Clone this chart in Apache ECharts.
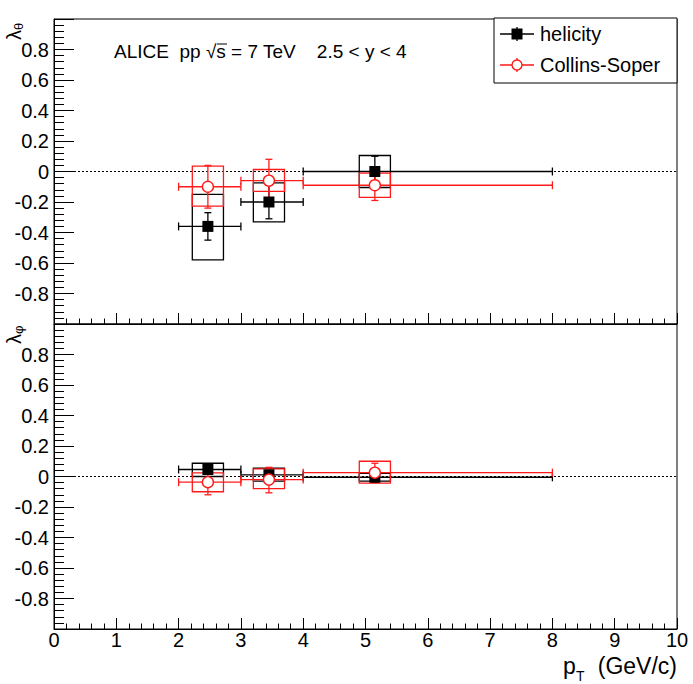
<!DOCTYPE html>
<html>
<head>
<meta charset="utf-8">
<script src="https://cdn.jsdelivr.net/npm/echarts@6/dist/echarts.min.js"></script>
<style>
html,body{margin:0;padding:0;background:#fff;}
#chart{width:693px;height:684px;}
</style>
</head>
<body>
<div id="chart"></div>
<script>
// ---- data ----
const xTicks = [0, 1, 2, 3, 4, 5, 6, 7, 8, 9, 10];
const yTickLabels = ['-0.8', '-0.6', '-0.4', '-0.2', '0', '0.2', '0.4', '0.6', '0.8'];
const seriesNames = ['helicity', 'Collins-Soper'];

const ptCenter = [2.47, 3.45, 5.15];
const ptLow = [2, 3, 4];
const ptHigh = [3, 4, 8];

// lambda_theta
const thetaHel = [-0.36, -0.20, 0.00];
const thetaHelStatLow = [-0.45, -0.31, -0.10];
const thetaHelStatHigh = [-0.27, -0.09, 0.10];
const thetaHelSysLow = [-0.58, -0.33, -0.105];
const thetaHelSysHigh = [-0.15, -0.075, 0.105];

const thetaCS = [-0.10, -0.06, -0.09];
const thetaCSStatLow = [-0.24, -0.20, -0.19];
const thetaCSStatHigh = [0.04, 0.08, 0.01];
const thetaCSSysLow = [-0.227, -0.13, -0.17];
const thetaCSSysHigh = [0.035, 0.013, -0.01];

// lambda_phi
const phiHel = [0.046, 0.011, -0.005];
const phiHelStatLow = [0.02, -0.02, -0.03];
const phiHelStatHigh = [0.07, 0.04, 0.02];
const phiHelSysLow = [0.0, -0.03, -0.03];
const phiHelSysHigh = [0.087, 0.054, 0.02];

const phiCS = [-0.037, -0.02, 0.025];
const phiCSStatLow = [-0.12, -0.107, -0.04];
const phiCSStatHigh = [0.04, 0.06, 0.087];
const phiCSSysLow = [-0.10, -0.08, -0.044];
const phiCSSysHigh = [0.024, 0.05, 0.10];

// ---- build ----
const FONT = 'Liberation Sans, Arial, Helvetica, sans-serif';
const BOX_HALF = 0.25;
const RED = '#ff1a1a';

function rows(val, sl, sh, bl, bh) {
  return val.map((v, i) => [ptCenter[i], v, ptLow[i], ptHigh[i], sl[i], sh[i], bl[i], bh[i]]);
}

function errRender(color) {
  return function (params, api) {
    const x = api.value(0), y = api.value(1);
    const c = api.coord([x, y]);
    const pl = api.coord([api.value(2), y]);
    const ph = api.coord([api.value(3), y]);
    const pyl = api.coord([x, api.value(4)]);
    const pyh = api.coord([x, api.value(5)]);
    const b1 = api.coord([x - BOX_HALF, api.value(7)]);
    const b2 = api.coord([x + BOX_HALF, api.value(6)]);
    const st = { stroke: color, lineWidth: 1.3, fill: null };
    const cap = 4, vcap = 3.5;
    return {
      type: 'group',
      children: [
        { type: 'rect', shape: { x: b1[0], y: b1[1], width: b2[0] - b1[0], height: b2[1] - b1[1] }, style: st },
        { type: 'line', shape: { x1: pl[0], y1: c[1], x2: ph[0], y2: c[1] }, style: st },
        { type: 'line', shape: { x1: pl[0], y1: c[1] - cap, x2: pl[0], y2: c[1] + cap }, style: st },
        { type: 'line', shape: { x1: ph[0], y1: c[1] - cap, x2: ph[0], y2: c[1] + cap }, style: st },
        { type: 'line', shape: { x1: c[0], y1: pyl[1], x2: c[0], y2: pyh[1] }, style: st },
        { type: 'line', shape: { x1: c[0] - vcap, y1: pyl[1], x2: c[0] + vcap, y2: pyl[1] }, style: st },
        { type: 'line', shape: { x1: c[0] - vcap, y1: pyh[1], x2: c[0] + vcap, y2: pyh[1] }, style: st }
      ]
    };
  };
}

function errSeries(name, data, color, idx, z) {
  return {
    name: name, type: 'custom', xAxisIndex: idx, yAxisIndex: idx,
    renderItem: errRender(color), data: data, z: z,
    encode: { x: [0, 2, 3], y: [1, 4, 5, 6, 7] }, silent: true, clip: false
  };
}
function markerSeries(name, data, isCS, idx, z) {
  return {
    name: name, type: 'scatter', xAxisIndex: idx, yAxisIndex: idx, z: z,
    data: data.map(r => [r[0], r[1]]),
    symbol: isCS ? 'circle' : 'rect',
    symbolSize: 11,
    itemStyle: isCS ? { color: '#fff', borderColor: RED, borderWidth: 1.4, opacity: 1 } : { color: '#000', opacity: 1 },
    silent: true
  };
}
function zeroLine(idx) {
  return {
    type: 'line', xAxisIndex: idx, yAxisIndex: idx, data: [[0, 0], [10, 0]],
    symbol: 'none', lineStyle: { color: '#000', width: 1, type: [2, 2] }, z: 1, silent: true
  };
}

const yLabelSet = new Set(yTickLabels);
function yAxisDef(idx) {
  return {
    type: 'value', gridIndex: idx, min: -1, max: 1, interval: 0.2,
    axisLine: { show: true, lineStyle: { color: '#000', width: 1 } },
    axisTick: { show: true, inside: true, length: 20, lineStyle: { color: '#000', width: 1 } },
    minorTick: { show: true, splitNumber: 5, length: 10, lineStyle: { color: '#000', width: 1 } },
    splitLine: { show: false },
    axisLabel: {
      margin: 5, color: '#000', fontFamily: FONT, fontSize: 20,
      formatter: v => { const s = String(Math.round(v * 10) / 10); return yLabelSet.has(s) ? s : ''; }
    }
  };
}
function xAxisDef(idx, showLabels) {
  return {
    type: 'value', gridIndex: idx, min: xTicks[0], max: xTicks[xTicks.length - 1], interval: 1,
    axisLine: { show: true, onZero: false, lineStyle: { color: '#000', width: 1 } },
    axisTick: { show: true, inside: true, length: 11, lineStyle: { color: '#000', width: 1 } },
    minorTick: { show: true, splitNumber: 5, length: 5.5, lineStyle: { color: '#000', width: 1 } },
    splitLine: { show: false },
    axisLabel: { show: showLabels, margin: 1, color: '#000', fontFamily: FONT, fontSize: 20 }
  };
}

const thetaHelRows = rows(thetaHel, thetaHelStatLow, thetaHelStatHigh, thetaHelSysLow, thetaHelSysHigh);
const thetaCSRows = rows(thetaCS, thetaCSStatLow, thetaCSStatHigh, thetaCSSysLow, thetaCSSysHigh);
const phiHelRows = rows(phiHel, phiHelStatLow, phiHelStatHigh, phiHelSysLow, phiHelSysHigh);
const phiCSRows = rows(phiCS, phiCSStatLow, phiCSStatHigh, phiCSSysLow, phiCSSysHigh);

const chart = echarts.init(document.getElementById('chart'), null, { renderer: 'svg' });
chart.setOption({
  animation: false,
  backgroundColor: '#fff',
  grid: [
    { left: 54, top: 19, width: 623, height: 305, show: true, borderColor: '#000', borderWidth: 1, backgroundColor: 'transparent' },
    { left: 54, top: 324, width: 623, height: 305, show: true, borderColor: '#000', borderWidth: 1, backgroundColor: 'transparent' }
  ],
  xAxis: [xAxisDef(0, false), xAxisDef(1, true)],
  yAxis: [yAxisDef(0), yAxisDef(1)],
  series: [
    zeroLine(0), zeroLine(1),
    errSeries(seriesNames[0], thetaHelRows, '#000', 0, 3),
    errSeries(seriesNames[1], thetaCSRows, RED, 0, 4),
    markerSeries(seriesNames[0], thetaHelRows, false, 0, 5),
    markerSeries(seriesNames[1], thetaCSRows, true, 0, 6),
    errSeries(seriesNames[0], phiHelRows, '#000', 1, 3),
    errSeries(seriesNames[1], phiCSRows, RED, 1, 4),
    markerSeries(seriesNames[0], phiHelRows, false, 1, 5),
    markerSeries(seriesNames[1], phiCSRows, true, 1, 6)
  ],
  graphic: [
    // title text
    { type: 'text', left: 114, top: 42, z: 10, style: { text: 'ALICE  pp √s = 7 TeV    2.5 < y < 4', font: '19px ' + FONT, fill: '#000' } },
    { type: 'line', z: 10, shape: { x1: 217, y1: 44, x2: 227, y2: 44 }, style: { stroke: '#000', lineWidth: 1 } },
    // legend
    { type: 'rect', z: 10, shape: { x: 494, y: 18, width: 183, height: 65 }, style: { fill: '#fff', stroke: '#000', lineWidth: 1 } },
    { type: 'line', z: 11, shape: { x1: 500, y1: 34, x2: 534, y2: 34 }, style: { stroke: '#000', lineWidth: 1.3 } },
    { type: 'line', z: 11, shape: { x1: 517, y1: 27, x2: 517, y2: 41 }, style: { stroke: '#000', lineWidth: 1.3 } },
    { type: 'rect', z: 12, shape: { x: 511.5, y: 28.5, width: 11, height: 11 }, style: { fill: '#000' } },
    { type: 'text', z: 12, x: 540, y: 34, style: { text: seriesNames[0], font: '20px ' + FONT, fill: '#000', verticalAlign: 'middle' } },
    { type: 'line', z: 11, shape: { x1: 500, y1: 65, x2: 534, y2: 65 }, style: { stroke: RED, lineWidth: 1.3 } },
    { type: 'line', z: 11, shape: { x1: 517, y1: 58, x2: 517, y2: 72 }, style: { stroke: RED, lineWidth: 1.3 } },
    { type: 'circle', z: 12, shape: { cx: 517, cy: 65, r: 5 }, style: { fill: '#fff', stroke: RED, lineWidth: 1.4 } },
    { type: 'text', z: 12, x: 540, y: 65, style: { text: seriesNames[1], font: '20px ' + FONT, fill: '#000', verticalAlign: 'middle' } },
    // y axis titles (rotated)
    { type: 'text', z: 10, x: 14, y: 40, rotation: Math.PI / 2, style: { text: '{a|λ}{b|θ}', rich: { a: { fontSize: 20, fontFamily: FONT, fill: '#000' }, b: { fontSize: 13, fontFamily: FONT, fill: '#000', verticalAlign: 'bottom', padding: [8, 0, 0, 0] } }, verticalAlign: 'middle', align: 'left' } },
    { type: 'text', z: 10, x: 14, y: 344, rotation: Math.PI / 2, style: { text: '{a|λ}{b|φ}', rich: { a: { fontSize: 20, fontFamily: FONT, fill: '#000' }, b: { fontSize: 13, fontFamily: FONT, fill: '#000', verticalAlign: 'bottom', padding: [8, 0, 0, 0] } }, verticalAlign: 'middle', align: 'left' } },
    // x axis title
    { type: 'text', z: 10, x: 563, y: 677, style: { text: 'p', font: '23px ' + FONT, fill: '#000', verticalAlign: 'bottom' } },
    { type: 'text', z: 10, x: 576, y: 683, style: { text: 'T', font: '14px ' + FONT, fill: '#000', verticalAlign: 'bottom' } },
    { type: 'text', z: 10, x: 677, y: 677, style: { text: '(GeV/c)', font: '23px ' + FONT, fill: '#000', align: 'right', verticalAlign: 'bottom' } }
  ]
});
</script>
</body>
</html>
